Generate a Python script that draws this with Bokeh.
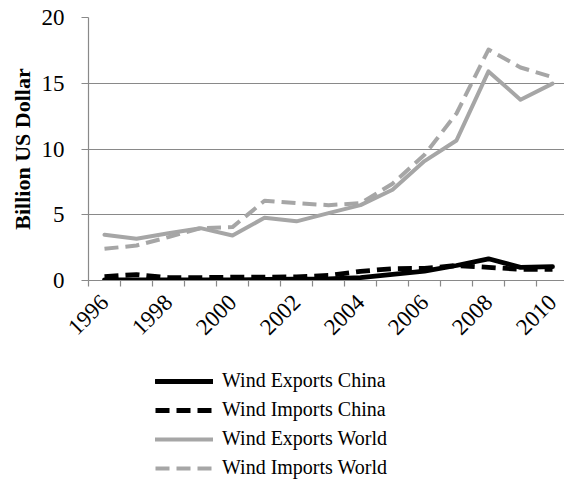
import math
from bokeh.plotting import figure
from bokeh.layouts import column
from bokeh.models import Range1d, FixedTicker, Legend, LegendItem
from bokeh.embed import file_html
from bokeh.resources import INLINE

years = list(range(1996, 2011))
exports_china = [0.05, 0.05, 0.05, 0.05, 0.05, 0.08, 0.1, 0.12, 0.22, 0.46, 0.72, 1.14, 1.65, 1.0, 1.05]
imports_china = [0.3, 0.45, 0.22, 0.22, 0.25, 0.26, 0.27, 0.38, 0.7, 0.9, 0.92, 1.14, 1.0, 0.85, 0.85]
exports_world = [3.48, 3.17, 3.6, 3.98, 3.42, 4.77, 4.5, 5.12, 5.73, 6.9, 9.08, 10.65, 15.9, 13.75, 14.97]
imports_world = [2.41, 2.66, 3.3, 3.98, 4.06, 6.06, 5.88, 5.73, 5.88, 7.36, 9.56, 12.7, 17.56, 16.2, 15.47]
series_names = ["Wind Exports China", "Wind Imports China", "Wind Exports World", "Wind Imports World"]
y_ticks = [0, 5, 10, 15, 20]

x = [i + 0.5 for i in range(len(years))]

AXIS_GRAY = "#898989"
GRAY = "#a6a6a6"
FONT = "Liberation Serif"
styles = [
    dict(line_color="black", line_width=4.8, line_cap="round", line_join="round"),
    dict(line_color="black", line_width=4.8, line_dash="14 7", line_join="round"),
    dict(line_color=GRAY, line_width=4, line_cap="round", line_join="round"),
    dict(line_color=GRAY, line_width=4, line_dash="14 7", line_join="round"),
]

p = figure(width=564, height=350, output_backend="svg", toolbar_location=None,
           x_range=Range1d(0, 14.875), y_range=Range1d(0, 20),
           min_border_left=88, min_border_right=0, min_border_top=17,
           min_border_bottom=70)
p.outline_line_color = None
p.background_fill_color = "white"
p.border_fill_color = "white"

for vals, st in zip([exports_china, imports_china, exports_world, imports_world], styles):
    p.line(x, vals, **st)

# y axis
p.yaxis.ticker = FixedTicker(ticks=y_ticks)
p.ygrid.ticker = FixedTicker(ticks=y_ticks)
p.ygrid.grid_line_color = AXIS_GRAY
p.ygrid.grid_line_width = 1.2
p.xgrid.visible = False
p.yaxis.axis_line_color = AXIS_GRAY
p.yaxis.axis_line_width = 1.2
p.yaxis.major_tick_line_color = AXIS_GRAY
p.yaxis.major_tick_line_width = 1.2
p.yaxis.major_tick_out = 7
p.yaxis.major_tick_in = 0
p.yaxis.minor_tick_line_color = None
p.yaxis.major_label_standoff = 17
p.yaxis.major_label_text_font = FONT
p.yaxis.major_label_text_font_size = "23px"
p.yaxis.major_label_text_color = "black"
p.yaxis.axis_label = "Billion US Dollar"
p.yaxis.axis_label_text_font = FONT
p.yaxis.axis_label_text_font_style = "bold"
p.yaxis.axis_label_text_font_size = "22px"
p.yaxis.axis_label_text_color = "black"
p.yaxis.axis_label_standoff = 4

# x axis
p.xaxis.ticker = FixedTicker(ticks=x[::2], minor_ticks=list(range(len(years))))
p.xaxis.major_label_overrides = {xv: str(yr) for xv, yr in zip(x, years)}
p.xaxis.major_label_orientation = math.pi / 4
p.xaxis.axis_line_color = AXIS_GRAY
p.xaxis.axis_line_width = 1.2
p.xaxis.major_tick_line_color = None
p.xaxis.minor_tick_line_color = AXIS_GRAY
p.xaxis.minor_tick_line_width = 1.2
p.xaxis.minor_tick_out = 6
p.xaxis.minor_tick_in = 0
p.xaxis.major_label_standoff = 12
p.xaxis.major_label_text_font = FONT
p.xaxis.major_label_text_font_size = "23px"
p.xaxis.major_label_text_color = "black"

# legend in its own strip below the chart (renderers hold no drawable point)
p2 = figure(width=564, height=149, output_backend="svg", toolbar_location=None,
            x_range=Range1d(0, 1), y_range=Range1d(0, 1),
            x_axis_type=None, y_axis_type=None, min_border=0)
p2.outline_line_color = None
p2.xgrid.visible = False
p2.ygrid.visible = False
items = []
for name, st in zip(series_names, styles):
    r = p2.line([float("nan")], [float("nan")], **st)
    items.append(LegendItem(label=name, renderers=[r]))

legend = Legend(items=items, orientation="vertical", location=(67, 20))
legend.border_line_color = None
legend.background_fill_alpha = 0
legend.label_text_font = FONT
legend.label_text_font_size = "20px"
legend.label_text_color = "black"
legend.glyph_width = 58
legend.glyph_height = 20
legend.label_height = 20
legend.label_standoff = 9
legend.spacing = 6
legend.padding = 0
legend.margin = 0
p2.add_layout(legend, "center")

open("out.html", "w").write(file_html(column(p, p2, spacing=0), INLINE))
